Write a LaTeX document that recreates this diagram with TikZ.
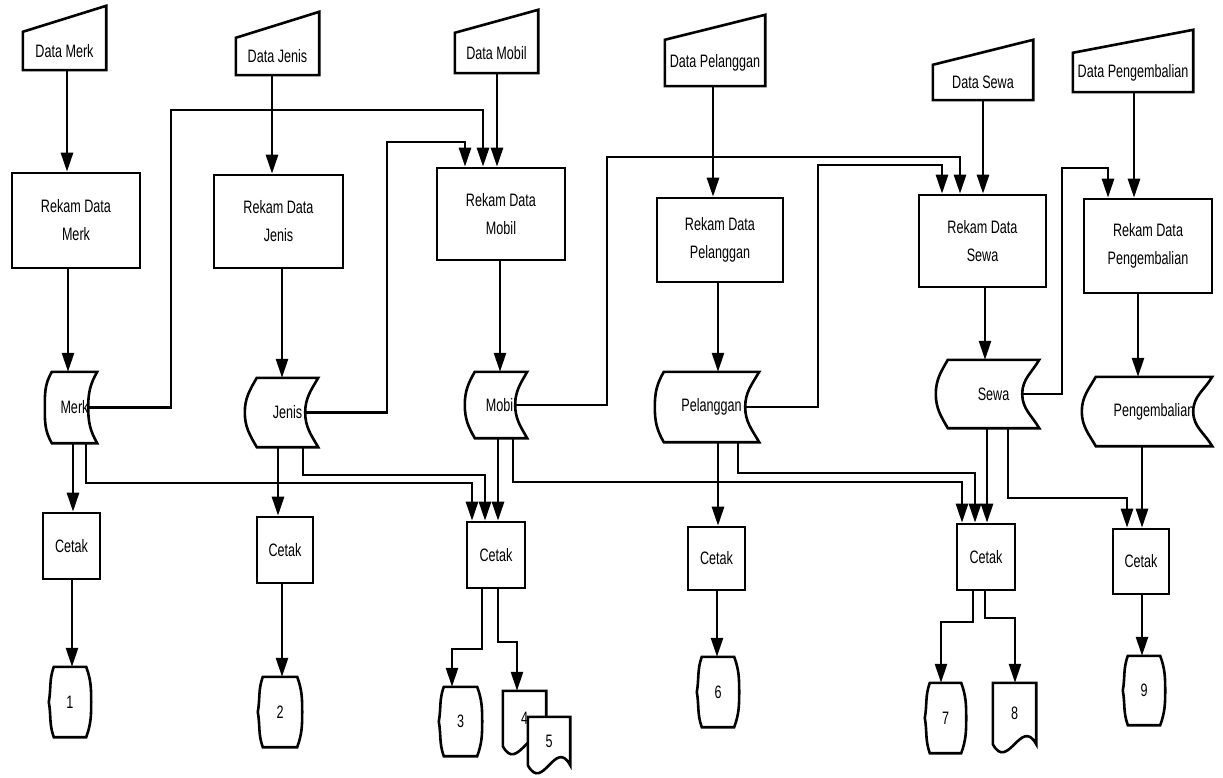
\documentclass[tikz,border=0pt]{standalone}
\usepackage{fontspec}
\setmainfont{Liberation Sans}[FakeStretch=0.7]
\usetikzlibrary{arrows.meta,calc,backgrounds}

\tikzset{
  every node/.style={inner sep=0pt, font=\fontsize{18}{28}\selectfont, align=center},
  wire/.style={line width=2.6pt},
  arr/.style={wire, -{Triangle[length=19pt,width=12pt]}},
  proc/.style 2 args={draw, wire, minimum width=#1, minimum height=#2},
  slot/.style 2 args={minimum width=#1, minimum height=#2}
}

\begin{document}
\begin{tikzpicture}[x=1pt,y=1pt]
  \useasboundingbox (0,0) rectangle (1223,-778);

  % input data
  \node[slot={83}{38}] (dmerk) at (64.5,-51) {Data Merk};
  \node[slot={83}{37}] (djenis) at (277.5,-56.5) {Data Jenis};
  \node[slot={83}{40}] (dmobil) at (496.5,-53) {Data Mobil};
  \node[slot={100}{46}] (dpel) at (715,-63) {Data Pelanggan};
  \node[slot={100}{35}] (dsewa) at (983,-82.5) {Data Sewa};
  \node[slot={120}{39}] (dpeng) at (1133,-72.5) {Data Pengembalian};
  \foreach \n/\r in {dmerk/26,djenis/26,dmobil/23,dpel/25,dsewa/25,dpeng/23}
    \draw[wire] (\n.south west) -- (\n.north west) -- ($(\n.north east)+(0,\r)$) -- (\n.south east) -- cycle;

  % rekam
  \node[proc={128}{95}] (rmerk) at (76,-220.5) {Rekam Data\\Merk};
  \node[proc={129}{93}] (rjenis) at (278.5,-221.5) {Rekam Data\\Jenis};
  \node[proc={128}{92}] (rmobil) at (501,-214) {Rekam Data\\Mobil};
  \node[proc={126}{84}] (rpel) at (720,-240) {Rekam Data\\Pelanggan};
  \node[proc={127}{92}] (rsewa) at (982.5,-241) {Rekam Data\\Sewa};
  \node[proc={128}{94}] (rpeng) at (1148,-246) {Rekam Data\\Pengembalian};

  % file
  \node[slot={45}{71}] (smerk) at (74.5,-407.5) {Merk};
  \node[slot={61}{69}] (sjenis) at (287.5,-412.5) {Jenis};
  \node[slot={52}{66}] (smobil) at (501,-405) {Mobil};
  \node[slot={95}{70}] (spel) at (711.5,-407) {Pelanggan};
  \node[slot={91}{68}] (ssewa) at (993.5,-394) {Sewa};
  \node[slot={116}{69}] (speng) at (1154,-411.5) {Pengembalian};
  \foreach \n/\a/\b in {smerk/7/9,sjenis/12/13,smobil/10/12,spel/9/14,ssewa/12/17,speng/14/19}
    \draw[wire] (\n.north west) -- (\n.north east)
      to[out=-120,in=90] ($(\n.east)+(-\b,0)$) coordinate (\n-r)
      to[out=-90,in=120] (\n.south east) -- (\n.south west)
      to[out=120,in=-90] ($(\n.west)+(-\a,0)$)
      to[out=90,in=-120] (\n.north west) -- cycle;

  % cetak
  \node[proc={57}{66}] (cmerk) at (71.5,-546) {Cetak};
  \node[proc={56}{66}] (cjenis) at (285,-550) {Cetak};
  \node[proc={58}{66}] (cmobil) at (496,-555) {Cetak};
  \node[proc={57}{63}] (cpel) at (716.5,-558.5) {Cetak};
  \node[proc={58}{66}] (csewa) at (986,-557) {Cetak};
  \node[proc={56}{65}] (cpeng) at (1141,-561.5) {Cetak};

  % output
  \node[slot={42}{70}] (o1) at (70,-702) {1};
  \node[slot={44}{70}] (o2) at (280,-712) {2};
  \node[slot={43}{69}] (o3) at (460.5,-721.5) {3};
  \node[slot={42}{70}] (o6) at (718,-692) {6};
  \node[slot={41}{70}] (o7) at (945.5,-718) {7};
  \node[slot={42}{69}] (o9) at (1144,-690.5) {9};
  \foreach \n in {o1,o2,o3,o6,o7,o9}
    \draw[wire] ($(\n.north west)+(5,0)$) -- ($(\n.north east)+(-5,0)$)
      to[out=-70,in=90] (\n.east) to[out=-90,in=70] ($(\n.south east)+(-5,0)$)
      -- ($(\n.south west)+(5,0)$) to[out=110,in=-80] (\n.west)
      to[out=80,in=-110] ($(\n.north west)+(5,0)$) -- cycle;
  \node[slot={43}{55}] (o4) at (524.5,-718.5) {4};
  \node[slot={42}{48}] (o5) at (549,-741) {5};
  \node[slot={43}{61}] (o8) at (1014.5,-713.5) {8};
  \begin{scope}[on background layer]
    \foreach \n in {o4,o5,o8}
      \draw[wire,fill=white] (\n.south west) -- (\n.north west) -- (\n.north east) -- (\n.south east)
        .. controls ($(\n.south east)+(-15,28)$) and ($(\n.south west)+(15,-28)$) .. (\n.south west) -- cycle;
  \end{scope}

  % merk
  \draw[arr] (67,0 |- dmerk.south) -- (67,0 |- rmerk.north);
  \draw[arr] (68,0 |- rmerk.south) -- (68,0 |- smerk.north);
  \draw[arr] (73,0 |- smerk.south) -- (73,0 |- cmerk.north);
  \draw[arr] (72,0 |- cmerk.south) -- (72,0 |- o1.north);
  \draw[arr] (smerk-r) -| (171,-110) -| (483,0 |- rmobil.north);
  \draw[arr] (86,0 |- smerk.south) |- (472,-483) -- (472,0 |- cmobil.north);
  % jenis
  \draw[arr] (272,0 |- djenis.south) -- (272,0 |- rjenis.north);
  \draw[arr] (282,0 |- rjenis.south) -- (282,0 |- sjenis.north);
  \draw[arr] (278,0 |- sjenis.south) -- (278,0 |- cjenis.north);
  \draw[arr] (282,0 |- cjenis.south) -- (282,0 |- o2.north);
  \draw[arr] (sjenis-r) -| (387,-142) -| (465,0 |- rmobil.north);
  \draw[arr] (303,0 |- sjenis.south) |- (485,-475) -- (485,0 |- cmobil.north);
  % mobil
  \draw[arr] (497,0 |- dmobil.south) -- (497,0 |- rmobil.north);
  \draw[arr] (500,0 |- rmobil.south) -- (500,0 |- smobil.north);
  \draw[arr] (498,0 |- smobil.south) -- (498,0 |- cmobil.north);
  \draw[arr] (smobil-r) -| (607,-157) -| (960,0 |- rsewa.north);
  \draw[arr] (513,0 |- smobil.south) |- (962,-482) -- (962,0 |- csewa.north);
  \draw[arr] (482,0 |- cmobil.south) |- (452,-649) -- (452,0 |- o3.north);
  \draw[arr] (498,0 |- cmobil.south) |- (517,-642) -- (517,0 |- o4.north);
  % pelanggan
  \draw[arr] (713,0 |- dpel.south) -- (713,0 |- rpel.north);
  \draw[arr] (718,0 |- rpel.south) -- (718,0 |- spel.north);
  \draw[arr] (718,0 |- spel.south) -- (718,0 |- cpel.north);
  \draw[arr] (717,0 |- cpel.south) -- (717,0 |- o6.north);
  \draw[arr] (spel-r) -| (818,-165) -| (942,0 |- rsewa.north);
  \draw[arr] (738,0 |- spel.south) |- (975,-473) -- (975,0 |- csewa.north);
  % sewa
  \draw[arr] (983,0 |- dsewa.south) -- (983,0 |- rsewa.north);
  \draw[arr] (985,0 |- rsewa.south) -- (985,0 |- ssewa.north);
  \draw[arr] (987,0 |- ssewa.south) -- (987,0 |- csewa.north);
  \draw[arr] (ssewa-r) -| (1062,-168) -| (1108,0 |- rpeng.north);
  \draw[arr] (1008,0 |- ssewa.south) |- (1127,-498) -- (1127,0 |- cpeng.north);
  \draw[arr] (973,0 |- csewa.south) |- (941,-622) -- (941,0 |- o7.north);
  \draw[arr] (985,0 |- csewa.south) |- (1015,-618) -- (1015,0 |- o8.north);
  % pengembalian
  \draw[arr] (1134,0 |- dpeng.south) -- (1134,0 |- rpeng.north);
  \draw[arr] (1138,0 |- rpeng.south) -- (1138,0 |- speng.north);
  \draw[arr] (1142,0 |- speng.south) -- (1142,0 |- cpeng.north);
  \draw[arr] (1142,0 |- cpeng.south) -- (1142,0 |- o9.north);
\end{tikzpicture}
\end{document}
